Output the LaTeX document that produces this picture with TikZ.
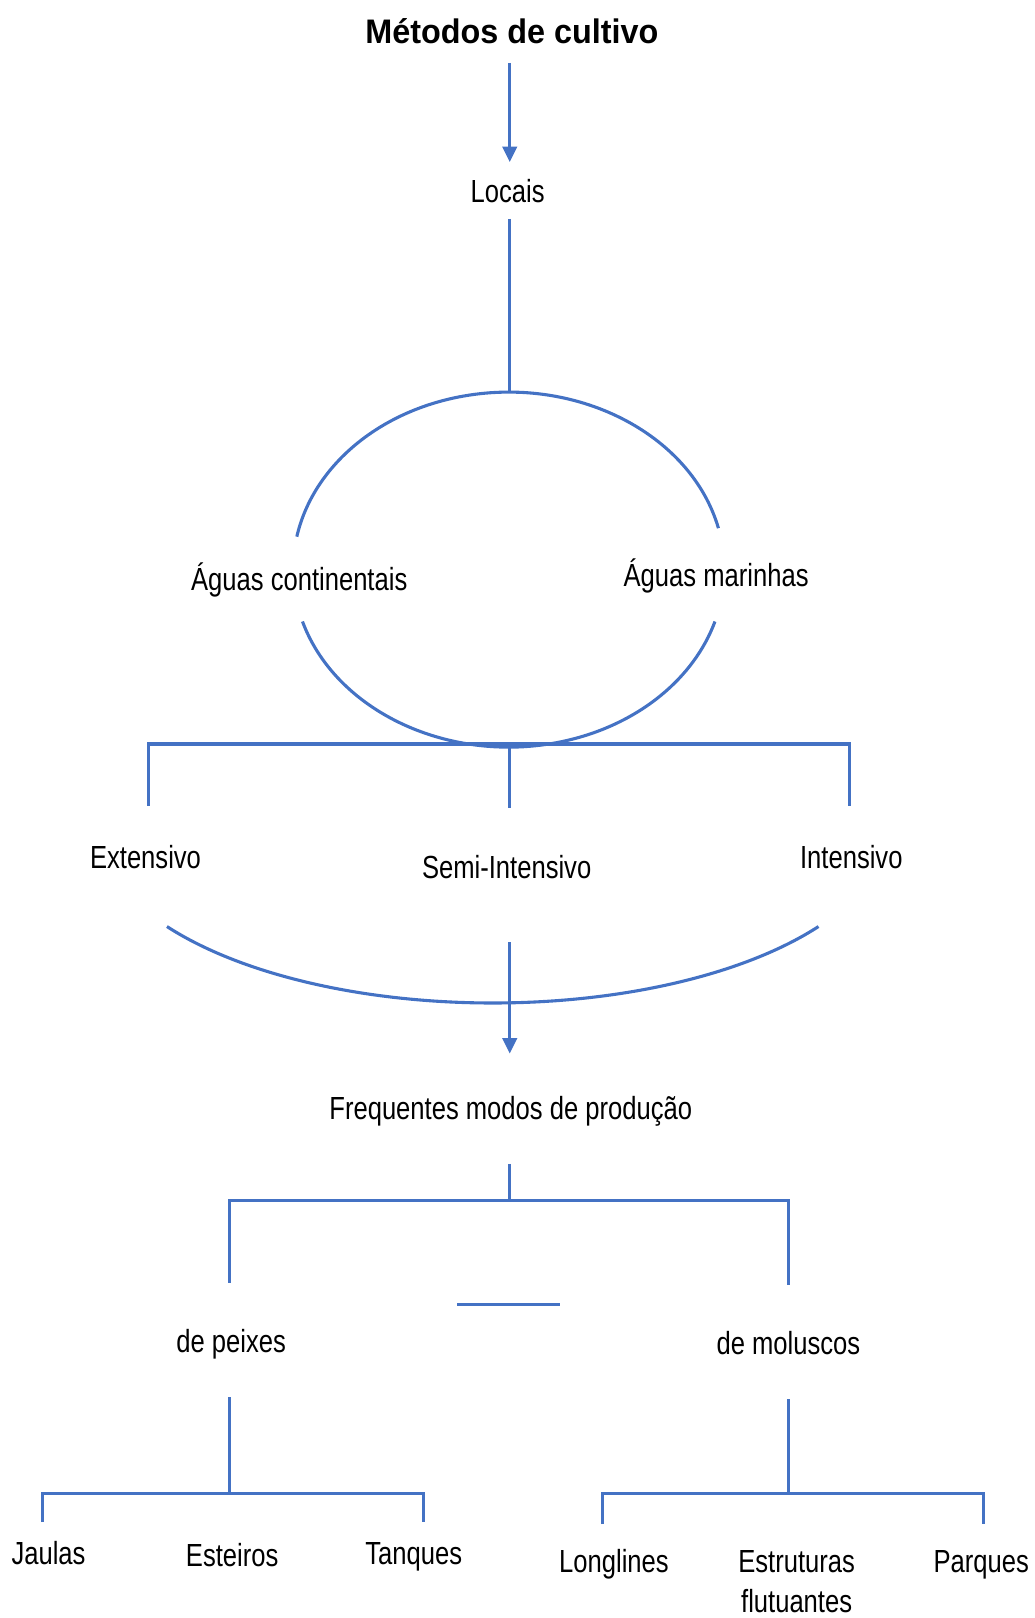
\documentclass[tikz,border=0pt]{standalone}
\usepackage{fontspec}
\setmainfont{Liberation Sans}[FakeStretch=0.8]
\newfontfamily\titlefont{Liberation Sans}[FakeStretch=0.95]
\usetikzlibrary{arrows.meta}
\definecolor{wblue}{HTML}{4472C4}
\tikzset{
  lbl/.style={inner sep=0pt, anchor=base, font=\fontsize{31}{37}\selectfont},
  ttl/.style={inner sep=0pt, anchor=base, font=\titlefont\bfseries\fontsize{33}{39}\selectfont},
  ln/.style={draw=wblue, line width=3pt},
  arr/.style={ln, -{Triangle[width=14pt,length=15pt]}}
}
\begin{document}
\begin{tikzpicture}[x=1pt,y=-1pt]
\useasboundingbox (0,0) rectangle (1003,1568);
% texts
\node[ttl] (title) at (496,42) {Métodos de cultivo};
\node[lbl] (locais) at (492,196) {Locais};
\node[lbl] (cont) at (290,572) {Águas continentais};
\node[lbl] (mar) at (694,568) {Águas marinhas};
\node[lbl] (ext) at (141,842) {Extensivo};
\node[lbl] (semi) at (491,851) {Semi-Intensivo};
\node[lbl] (int) at (825,842) {Intensivo};
\node[lbl] (freq) at (495,1085) {Frequentes modos de produção};
\node[lbl] (peixes) at (224,1311) {de peixes};
\node[lbl] (molus) at (764,1313) {de moluscos};
\node[lbl] (jaulas) at (47,1516) {Jaulas};
\node[lbl] (esteiros) at (225,1518) {Esteiros};
\node[lbl] (tanques) at (401,1516) {Tanques};
\node[lbl] (long) at (595,1524) {Longlines};
\node[lbl] (estr) at (772,1524) {Estruturas};
\node[lbl] (flut) at (772,1563) {flutuantes};
\node[lbl] (parques) at (951,1524) {Parques};
% coordinates
\coordinate (a1) at (494,61);
\coordinate (a2) at (494,157);
\coordinate (l1) at (494,212);
\coordinate (ctop) at (494,380);
\coordinate (cc) at (493,552);
\coordinate (b1) at (144,721);
\coordinate (b2) at (823,721);
\coordinate (bm) at (494,721);
\coordinate (bl) at (144,781);
\coordinate (br) at (823,781);
\coordinate (bmd) at (494,783);
\coordinate (uc) at (477.5,800);
\coordinate (a3) at (494,913);
\coordinate (a4) at (494,1021);
\coordinate (f1) at (494,1128);
\coordinate (f2) at (494,1163);
\coordinate (g1) at (222,1163);
\coordinate (g2) at (764,1163);
\coordinate (g1d) at (222,1243);
\coordinate (g2d) at (764,1245);
\coordinate (s1) at (443,1264);
\coordinate (s2) at (543,1264);
\coordinate (p1) at (222,1354);
\coordinate (p2) at (222,1447);
\coordinate (pl) at (41,1447);
\coordinate (pr) at (410,1447);
\coordinate (pld) at (41,1475);
\coordinate (prd) at (410,1475);
\coordinate (m1) at (764,1356);
\coordinate (m2) at (764,1447);
\coordinate (ml) at (584,1447);
\coordinate (mr) at (953,1447);
\coordinate (mld) at (584,1477);
\coordinate (mrd) at (953,1477);
% connectors
\draw[arr] (a1) -- (a2);
\draw[ln] (l1) -- (ctop);
\draw[ln] (cc) ++(-13.5:209 and 172) arc[start angle=-13.5, end angle=-169.3, x radius=209, y radius=172];
\draw[ln] (cc) ++(163:209 and 172) arc[start angle=163, end angle=17, x radius=209, y radius=172];
\draw[ln] (bl) -- (b1) -- (b2) -- (br);
\draw[ln] (bm) -- (bmd);
\draw[ln] (uc) ++(145.3:384 and 172) arc[start angle=145.3, end angle=34.7, x radius=384, y radius=172];
\draw[arr] (a3) -- (a4);
\draw[ln] (f1) -- (f2);
\draw[ln] (g1d) -- (g1) -- (g2) -- (g2d);
\draw[ln] (s1) -- (s2);
\draw[ln] (p1) -- (p2);
\draw[ln] (pld) -- (pl) -- (pr) -- (prd);
\draw[ln] (m1) -- (m2);
\draw[ln] (mld) -- (ml) -- (mr) -- (mrd);
\end{tikzpicture}
\end{document}
